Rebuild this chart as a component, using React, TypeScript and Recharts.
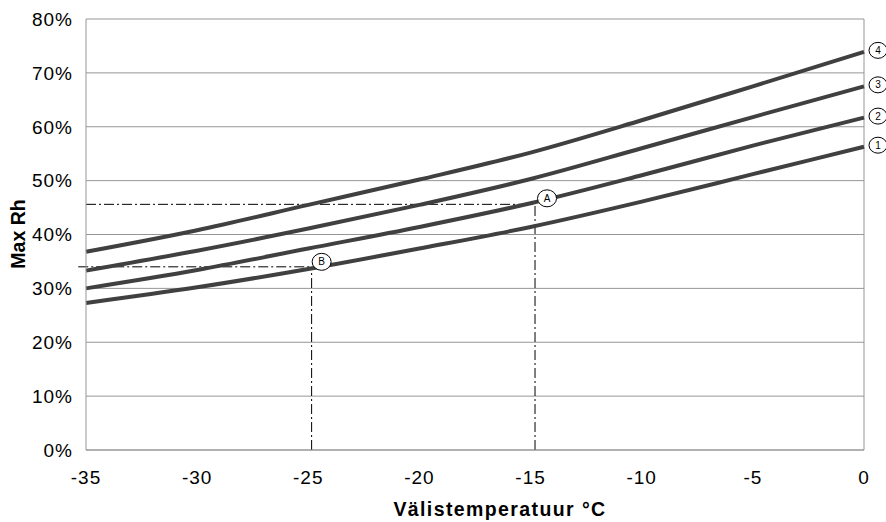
import React from "react";
import {
  LineChart,
  Line,
  XAxis,
  YAxis,
  CartesianGrid,
  ReferenceLine,
  ReferenceDot,
} from "recharts";

const temps = [-35, -30, -25, -20, -15, -10, -5, 0];
const curve1 = [27.3, 30.2, 33.6, 37.4, 41.4, 46.1, 51.2, 56.3];
const curve2 = [30.0, 33.4, 37.4, 41.4, 45.8, 51.0, 56.5, 61.7];
const curve3 = [33.3, 37.0, 41.1, 45.5, 50.3, 56.0, 61.8, 67.5];
const curve4 = [36.8, 40.8, 45.5, 50.2, 55.2, 61.2, 67.5, 73.9];
const curveNames = ["1", "2", "3", "4"];

const xTicks = [-35, -30, -25, -20, -15, -10, -5, 0];
const yTicks = [0, 10, 20, 30, 40, 50, 60, 70, 80];

const pointA = { label: "A", x: -14.8, y: 45.6 };
const pointB = { label: "B", x: -24.85, y: 34.0 };

const data = temps.map((t, i) => ({
  t,
  c1: curve1[i],
  c2: curve2[i],
  c3: curve3[i],
  c4: curve4[i],
}));

const FONT = "'Liberation Sans', Arial, sans-serif";
const CURVE = "#404040";
const GRID = "#969696";
const DASH = "10 3 2 3";

const XTick = (props: any) => {
  const { x, y, payload } = props;
  return (
    <text
      x={x}
      y={y}
      dy="0.71em"
      textAnchor="middle"
      fontSize={19}
      fontFamily={FONT}
      fill="#000"
      style={{ letterSpacing: "1px" }}
    >
      {payload.value}
    </text>
  );
};

const YTick = (props: any) => {
  const { x, y, payload } = props;
  return (
    <text
      x={x + 1}
      y={y}
      dy="0.36em"
      textAnchor="end"
      fontSize={19}
      fontFamily={FONT}
      fill="#000"
      style={{ letterSpacing: "1px" }}
    >
      {`${payload.value}%`}
    </text>
  );
};

const endLabel = (name: string) => (props: any) => {
  if (props.index !== temps.length - 1) return null;
  const cx = props.x + 14;
  const cy = props.y - 1.5;
  return (
    <g>
      <ellipse cx={cx} cy={cy} rx={9} ry={8} fill="#fff" stroke="#000" strokeWidth={1} />
      <text
        x={cx}
        y={cy}
        dy="0.36em"
        textAnchor="middle"
        fontSize={10}
        fontFamily={FONT}
        fill="#000"
      >
        {name}
      </text>
    </g>
  );
};

const markerShape = (label: string, dx: number, dy: number) => (props: any) => {
  const cx = props.cx + dx;
  const cy = props.cy + dy;
  return (
    <g>
      <ellipse cx={cx} cy={cy} rx={9.5} ry={8.5} fill="#fff" stroke="#000" strokeWidth={1} />
      <text
        x={cx}
        y={cy}
        dy="0.36em"
        textAnchor="middle"
        fontSize={10}
        fontFamily={FONT}
        fill="#000"
      >
        {label}
      </text>
    </g>
  );
};

export default function App() {
  return (
    <div style={{ position: "absolute", left: 0, top: 0, background: "#fff" }}>
      <LineChart
        width={886}
        height={522}
        data={data}
        margin={{ top: 19, right: 22, bottom: 0, left: 0 }}
      >
        <CartesianGrid vertical={false} stroke={GRID} strokeWidth={1} />
        <XAxis
          dataKey="t"
          type="number"
          domain={[-35, 0]}
          ticks={xTicks}
          height={72}
          tickSize={0}
          tickMargin={21}
          axisLine={{ stroke: GRID }}
          tickLine={false}
          tick={<XTick />}
          label={{
            content: (p: any) => {
              const vb = p.viewBox || {};
              return (
                <text
                  x={(vb.x || 86) + (vb.width || 778) / 2 + 25}
                  y={516}
                  textAnchor="middle"
                  fontSize={19.5}
                  fontWeight="bold"
                  fontFamily={FONT}
                  fill="#000"
                  style={{ letterSpacing: "1.4px" }}
                >
                  Välistemperatuur °C
                </text>
              );
            },
          }}
        />
        <YAxis
          type="number"
          domain={[0, 80]}
          ticks={yTicks}
          width={86}
          tickSize={0}
          tickMargin={14}
          axisLine={{ stroke: GRID }}
          tickLine={false}
          tick={<YTick />}
          label={{
            content: () => (
              <text
                x={18}
                y={234}
                transform="rotate(-90 18 234)"
                textAnchor="middle"
                dy="0.36em"
                fontSize={19.5}
                fontWeight="bold"
                fontFamily={FONT}
                fill="#000"
              >
                Max Rh
              </text>
            ),
          }}
        />
        <ReferenceLine x={0} stroke={GRID} strokeWidth={1} />

        <ReferenceLine
          segment={[
            { x: -35, y: pointA.y },
            { x: pointA.x, y: pointA.y },
          ]}
          stroke="#000"
          strokeWidth={1}
          strokeDasharray={DASH}
          ifOverflow="visible"
        />
        <ReferenceLine
          segment={[
            { x: pointA.x, y: 0 },
            { x: pointA.x, y: pointA.y },
          ]}
          stroke="#000"
          strokeWidth={1}
          strokeDasharray={DASH}
          ifOverflow="visible"
        />
        <ReferenceLine
          segment={[
            { x: -35.35, y: pointB.y },
            { x: pointB.x, y: pointB.y },
          ]}
          stroke="#000"
          strokeWidth={1}
          strokeDasharray={DASH}
          ifOverflow="visible"
        />
        <ReferenceLine
          segment={[
            { x: pointB.x, y: 0 },
            { x: pointB.x, y: pointB.y },
          ]}
          stroke="#000"
          strokeWidth={1}
          strokeDasharray={DASH}
          ifOverflow="visible"
        />

        {(["c1", "c2", "c3", "c4"] as const).map((k, i) => (
          <Line
            key={k}
            dataKey={k}
            type="monotone"
            stroke={CURVE}
            strokeWidth={4}
            dot={false}
            activeDot={false}
            isAnimationActive={false}
            label={endLabel(curveNames[i])}
          />
        ))}

        <ReferenceDot
          x={pointA.x}
          y={pointA.y}
          r={8}
          ifOverflow="visible"
          shape={markerShape(pointA.label, 12, -6)}
        />
        <ReferenceDot
          x={pointB.x}
          y={pointB.y}
          r={8}
          ifOverflow="visible"
          shape={markerShape(pointB.label, 10, -5)}
        />
      </LineChart>
    </div>
  );
}
